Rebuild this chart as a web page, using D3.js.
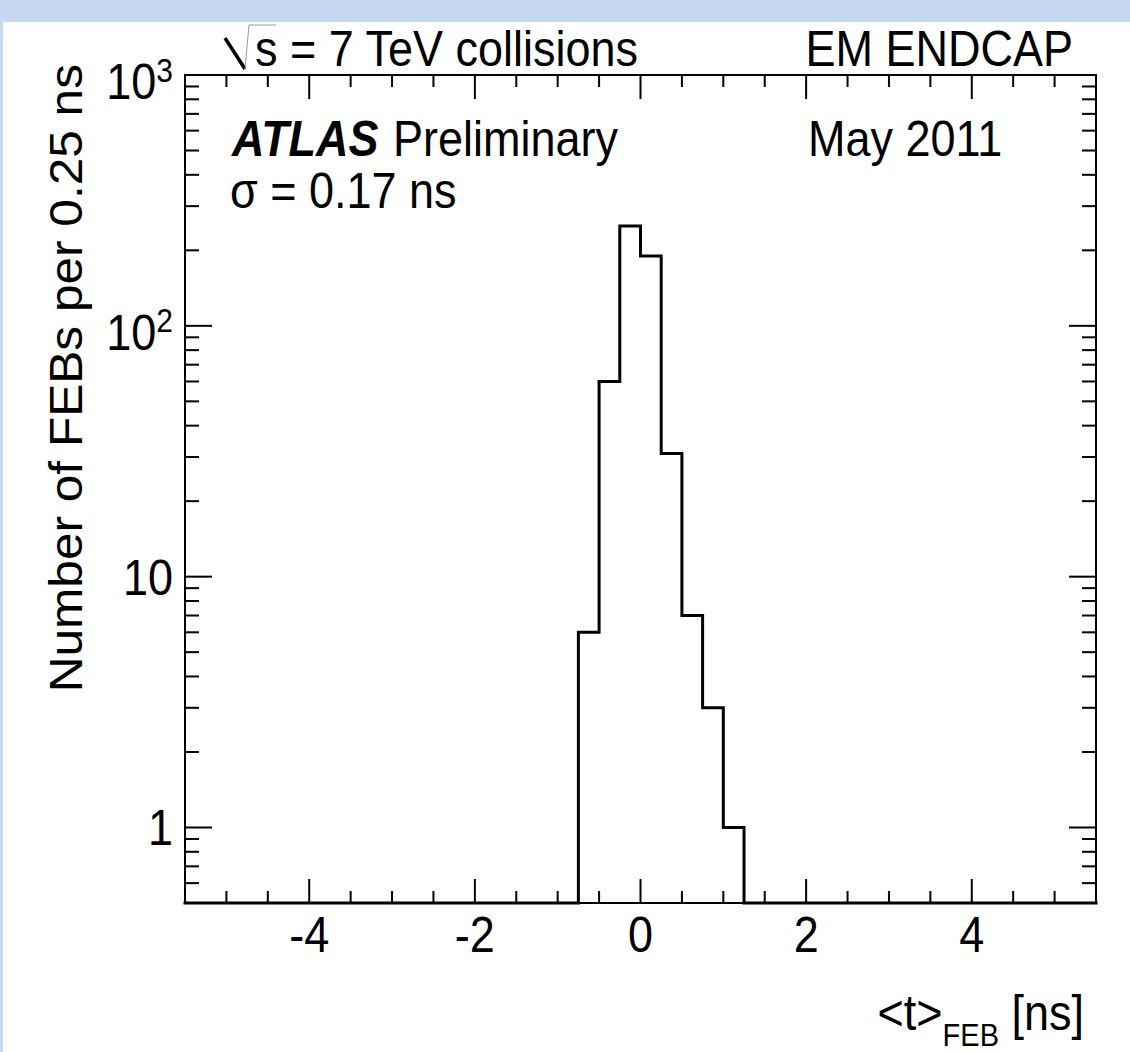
<!DOCTYPE html>
<html>
<head>
<meta charset="utf-8">
<script src="https://cdn.jsdelivr.net/npm/d3@7"></script>
<style>
  html, body { margin: 0; padding: 0; background: #c6d9f1; }
  svg { display: block; }
  text { font-family: "Liberation Sans", Arial, Helvetica, sans-serif; fill: #000; }
</style>
</head>
<body>
<svg id="chart" width="1130" height="1052"></svg>
<script>
// ── Data ─────────────────────────────────────────────────────
const binWidth  = 0.25;
const binStarts = [-0.75, -0.5, -0.25, 0, 0.25, 0.5, 0.75, 1.0];
const counts    = [6, 60, 250, 190, 31, 7, 3, 1];

const xDomain     = [-5.5, 5.5];
const yDomain     = [0.5, 1000];
const xMajorTicks = [-4, -2, 0, 2, 4];
const yMajorTicks = [1, 10, 100, 1000];
const yTickBase   = ["1", "10", "10", "10"];
const yTickExp    = ["", "", "2", "3"];

// ── Setup ────────────────────────────────────────────────────
const W = 1130, H = 1052;
const m = { top: 75, right: 34, bottom: 149, left: 185 };
const iw = W - m.left - m.right;
const ih = H - m.top - m.bottom;
const SY = 1.09;   // glyphs in the picture are a bit taller than wide

const svg = d3.select("#chart");
svg.append("rect").attr("x", 3).attr("y", 22).attr("width", W - 3).attr("height", H - 22).attr("fill", "#fff");

const g = svg.append("g").attr("transform", `translate(${m.left},${m.top})`);

const x = d3.scaleLinear().domain(xDomain).range([0, iw]);
const y = d3.scaleLog().domain(yDomain).range([ih, 0]);

// text helper: stretched slightly in y, anchored at the baseline
function label(parent, tx, ty, str, size, anchor) {
    return parent.append("text")
        .attr("transform", `translate(${tx},${ty}) scale(1,${SY})`)
        .attr("text-anchor", anchor || "start")
        .attr("font-size", size)
        .text(str);
}

// Histogram (step line along the bottom where bins are empty)
const pts = [[xDomain[0], yDomain[0]], [binStarts[0], yDomain[0]]];
binStarts.forEach((b, i) => {
    pts.push([b, counts[i]]);
    pts.push([b + binWidth, counts[i]]);
});
const lastEdge = binStarts[binStarts.length - 1] + binWidth;
pts.push([lastEdge, yDomain[0]], [xDomain[1], yDomain[0]]);

g.append("path")
    .datum(pts)
    .attr("fill", "none").attr("stroke", "#000").attr("stroke-width", 3)
    .attr("stroke-linejoin", "miter").attr("stroke-linecap", "square")
    .attr("d", d3.line().x(d => x(d[0])).y(d => y(d[1])));

// Ticks
const tickG = g.append("g").attr("stroke", "#000").attr("stroke-width", 2);
const xMinor = d3.range(-5, 5.01, 0.5).filter(v => !xMajorTicks.includes(v));
xMinor.forEach(v => {
    tickG.append("line").attr("x1", x(v)).attr("x2", x(v)).attr("y1", ih).attr("y2", ih - 12);
    tickG.append("line").attr("x1", x(v)).attr("x2", x(v)).attr("y1", 0).attr("y2", 12);
});
xMajorTicks.forEach(v => {
    tickG.append("line").attr("x1", x(v)).attr("x2", x(v)).attr("y1", ih).attr("y2", ih - 24);
    tickG.append("line").attr("x1", x(v)).attr("x2", x(v)).attr("y1", 0).attr("y2", 24);
});

const yMinor = [];
[0.1, 1, 10, 100].forEach(d => {
    for (let k = 2; k <= 9; k++) {
        const v = k * d;
        if (v >= yDomain[0] && v <= yDomain[1]) yMinor.push(v);
    }
});
yMinor.forEach(v => {
    tickG.append("line").attr("x1", 0).attr("x2", 14).attr("y1", y(v)).attr("y2", y(v));
    tickG.append("line").attr("x1", iw).attr("x2", iw - 14).attr("y1", y(v)).attr("y2", y(v));
});
yMajorTicks.forEach(v => {
    tickG.append("line").attr("x1", 0).attr("x2", 27).attr("y1", y(v)).attr("y2", y(v));
    tickG.append("line").attr("x1", iw).attr("x2", iw - 27).attr("y1", y(v)).attr("y2", y(v));
});

// Frame
g.append("rect").attr("width", iw).attr("height", ih)
    .attr("fill", "none").attr("stroke", "#000").attr("stroke-width", 2);

// Tick labels
xMajorTicks.forEach(v => label(g, x(v), ih + 49, v, 45, "middle"));

yMajorTicks.forEach((v, i) => {
    const t = label(g, -12, y(v) + (yTickExp[i] ? 24 : 18), null, 45, "end");
    t.append("tspan").text(yTickBase[i]);
    if (yTickExp[i]) t.append("tspan").attr("font-size", 30).attr("dy", -16).text(yTickExp[i]);
});

// Axis titles
svg.append("text")
    .attr("transform", `translate(82,64) scale(1,${SY}) rotate(-90)`)
    .attr("text-anchor", "end").attr("font-size", 45.5)
    .text("Number of FEBs per 0.25 ns");

const xt = label(svg, 1084, 1030, null, 45, "end");
xt.append("tspan").text("<t>");
xt.append("tspan").attr("font-size", 29).attr("dy", 15).text("FEB");
xt.append("tspan").attr("dy", -15).text(" [ns]");

// Labels
svg.append("path").attr("d", "M225,38 L245,69").attr("stroke", "#000").attr("stroke-width", 3.5).attr("fill", "none");
svg.append("path").attr("d", "M245,69 L249,25 L276,25").attr("stroke", "#999").attr("stroke-width", 1).attr("fill", "none");
label(svg, 255, 66, "s = 7 TeV collisions", 45);
label(svg, 1073, 66, "EM ENDCAP", 45, "end");

label(svg, 232, 156, "ATLAS", 45).attr("font-weight", "bold").attr("font-style", "italic");
label(svg, 393, 156, "Preliminary", 45);
label(svg, 808, 156, "May 2011", 45);
label(svg, 230, 208, "σ = 0.17 ns", 45);
</script>
</body>
</html>
